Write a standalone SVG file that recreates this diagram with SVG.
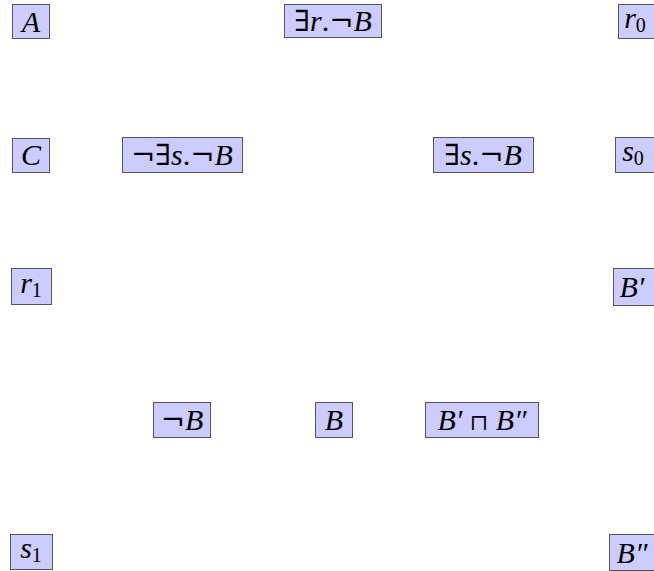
<svg xmlns="http://www.w3.org/2000/svg" width="654" height="571" viewBox="0 0 654 571">
<style>
rect.n{fill:#ccccff;stroke:#555;stroke-width:1}
text{font-family:"Liberation Serif","Times New Roman",serif;font-size:30px;text-anchor:middle;fill:#000}
.i{font-style:italic}
.s{font-size:20px}
.sym{font-family:"DejaVu Serif",serif;font-size:29px}
.meet{font-family:"DejaVu Serif",serif;font-size:22px}
</style>
<rect width="654" height="571" fill="#fff"/>
<g id="connectors"></g>
<g id="nA"><rect class="n" x="12.5" y="4.5" width="37" height="34"/><text x="31" y="32" class="i">A</text></g>
<g id="nExistsR"><rect class="n" x="284.5" y="4.5" width="97" height="33"/><text x="333" y="31"><tspan class="sym">∃</tspan><tspan class="i">r</tspan>.<tspan class="sym">¬</tspan><tspan class="i">B</tspan></text></g>
<g id="nR0"><rect class="n" x="618.5" y="4.5" width="40" height="34"/><text x="635" y="28"><tspan class="i">r</tspan><tspan class="s" dy="4">0</tspan></text></g>
<g id="nC"><rect class="n" x="12.5" y="138.5" width="37" height="34"/><text x="31" y="165" class="i">C</text></g>
<g id="nNotExistsS"><rect class="n" x="122.5" y="137.5" width="120" height="35"/><text x="182" y="165"><tspan class="sym">¬∃</tspan><tspan class="i">s</tspan>.<tspan class="sym">¬</tspan><tspan class="i">B</tspan></text></g>
<g id="nExistsS"><rect class="n" x="433.5" y="137.5" width="100" height="35"/><text x="483" y="165"><tspan class="sym">∃</tspan><tspan class="i">s</tspan>.<tspan class="sym">¬</tspan><tspan class="i">B</tspan></text></g>
<g id="nS0"><rect class="n" x="615.5" y="137.5" width="40" height="35"/><text x="633" y="161"><tspan class="i">s</tspan><tspan class="s" dy="4">0</tspan></text></g>
<g id="nR1"><rect class="n" x="11.5" y="268.5" width="40" height="36"/><text x="31" y="293"><tspan class="i">r</tspan><tspan class="s" dy="4">1</tspan></text></g>
<g id="nBp"><rect class="n" x="613.5" y="268.5" width="45" height="37"/><text x="632" y="297" class="i">B′</text></g>
<g id="nNotB"><rect class="n" x="153.5" y="402.5" width="57" height="35"/><text x="182" y="430"><tspan class="sym">¬</tspan><tspan class="i">B</tspan></text></g>
<g id="nB"><rect class="n" x="315.5" y="402.5" width="37" height="35"/><text x="334" y="430" class="i">B</text></g>
<g id="nMeet"><rect class="n" x="425.5" y="402.5" width="113" height="35"/><text x="482" y="430"><tspan class="i">B′</tspan> <tspan class="meet">⊓</tspan> <tspan class="i">B″</tspan></text></g>
<g id="nS1"><rect class="n" x="10.5" y="534.5" width="42" height="35"/><text x="31" y="558"><tspan class="i">s</tspan><tspan class="s" dy="4">1</tspan></text></g>
<g id="nBpp"><rect class="n" x="609.5" y="534.5" width="48" height="36"/><text x="632" y="563" class="i">B″</text></g>
</svg>
